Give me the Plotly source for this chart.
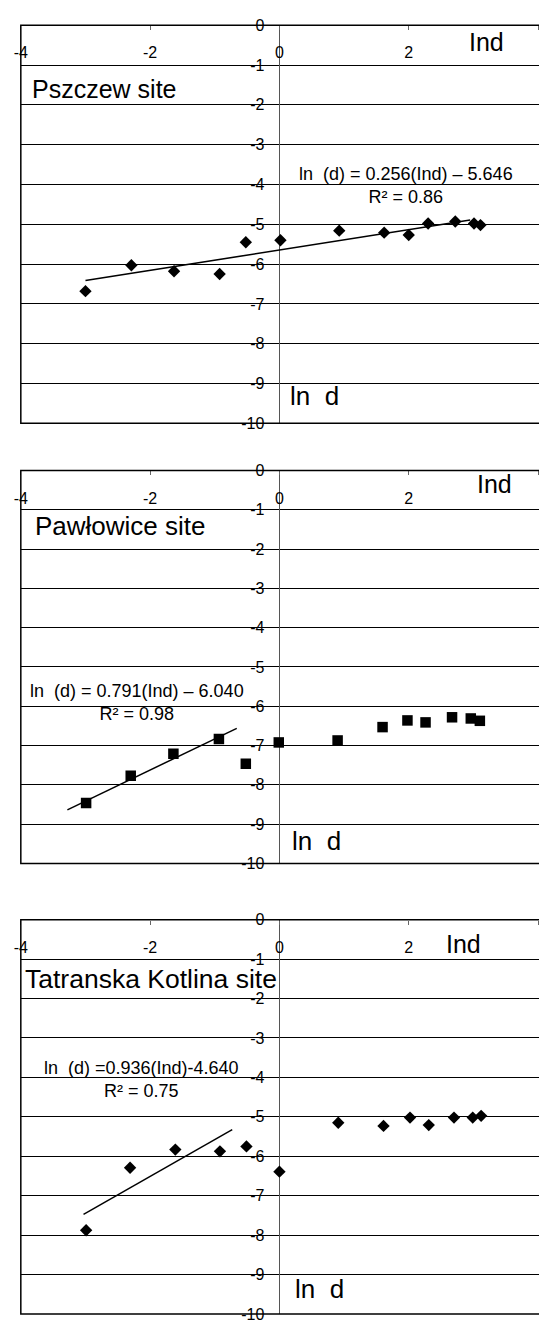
import plotly.graph_objects as go

W, H = 539, 1324
FONT = "Liberation Sans, Arial, sans-serif"

# ---- data ----
site_names = ["Pszczew site", "Pawłowice site", "Tatranska Kotlina site"]

ind_p1 = [-3.0, -2.29, -1.63, -0.925, -0.52, 0.016, 0.925, 1.62, 2.0, 2.30, 2.72, 3.01, 3.11]
lnd_p1 = [-6.68, -6.03, -6.18, -6.25, -5.45, -5.40, -5.16, -5.21, -5.27, -4.98, -4.93, -4.98, -5.02]

ind_p2 = [-2.99, -2.30, -1.64, -0.936, -0.52, -0.01, 0.90, 1.595, 1.98, 2.26, 2.67, 2.96, 3.10]
lnd_p2 = [-8.46, -7.77, -7.21, -6.83, -7.46, -6.92, -6.87, -6.53, -6.36, -6.41, -6.28, -6.31, -6.37]

ind_p3 = [-2.99, -2.31, -1.61, -0.92, -0.51, 0.0, 0.91, 1.61, 2.02, 2.31, 2.70, 2.99, 3.12]
lnd_p3 = [-7.875, -6.29, -5.83, -5.875, -5.75, -6.39, -5.15, -5.23, -5.02, -5.21, -5.02, -5.02, -4.975]

fit_slope = [0.256, 0.791, 0.936]
fit_intercept = [-5.646, -6.040, -4.640]
fit_x_start = [-3.0, -3.28, -3.03]
fit_x_end = [2.95, -0.66, -0.73]

eq_text = ["ln  (d) = 0.256(Ind) – 5.646<br>R² = 0.86",
           "ln  (d) = 0.791(Ind) – 6.040<br>R² = 0.98",
           "ln  (d) =0.936(Ind)-4.640<br>R² = 0.75"]

x_tick_vals = [-4, -2, 0, 2, 4]
x_tick_text = ["-4", "-2", "0", "2", "4"]
y_tick_vals = [0, -1, -2, -3, -4, -5, -6, -7, -8, -9, -10]
y_tick_text = ["0", "-1", "-2", "-3", "-4", "-5", "-6", "-7", "-8", "-9", "-10"]

xs = [ind_p1, ind_p2, ind_p3]
ys = [lnd_p1, lnd_p2, lnd_p3]
symbols = ["diamond", "square", "diamond"]
msizes = [9.5, 10.5, 9.5]

# ---- layout geometry (pixels) ----
top_px = [17.5, 468.5, 923.5]
bot_px = [420.7, 866.6, 1323.0]
left_px = 14.0
yaxis_px = 276.0

def px_x(p):
    return p / W

def px_y(p):
    return 1 - p / H

fig = go.Figure()
layout_axes = {}
shapes = []
annotations = []

title_pos = [(23, 82, 25), (26.8, 525, 26), (16.5, 984, 26.5)]
ind_pos = [(466, 34), (474, 482.5), (443, 948.5)]
lnd_pos = [(285, 393), (287, 844), (290, 1297.5)]
eq_pos = [(404, 179.5), (132, 704), (136, 1085)]

for i in range(3):
    xa = "x" if i == 0 else f"x{i+1}"
    ya = "y" if i == 0 else f"y{i+1}"
    fig.add_trace(go.Scatter(
        x=xs[i], y=ys[i], mode="markers",
        marker=dict(symbol=symbols[i], size=msizes[i], color="black",
                    line=dict(width=0)),
        xaxis=xa, yaxis=ya, showlegend=False, hoverinfo="skip"))
    tx = [fit_x_start[i], fit_x_end[i]]
    ty = [fit_slope[i] * v + fit_intercept[i] for v in tx]
    fig.add_trace(go.Scatter(
        x=tx, y=ty, mode="lines", line=dict(color="black", width=1.5),
        xaxis=xa, yaxis=ya, showlegend=False, hoverinfo="skip"))

    top = px_y(top_px[i])
    bot = px_y(bot_px[i])
    xkey = "xaxis" if i == 0 else f"xaxis{i+1}"
    ykey = "yaxis" if i == 0 else f"yaxis{i+1}"
    layout_axes[xkey] = dict(
        domain=[px_x(left_px), 1.0], range=[-4, 4.015],
        anchor="free", position=top, side="bottom",
        tickmode="array", tickvals=x_tick_vals, ticktext=x_tick_text,
        ticks="outside", ticklen=4, tickcolor="#666", tickwidth=1,
        ticklabelstandoff=9,
        tickfont=dict(family=FONT, size=16, color="black"),
        showgrid=False, showline=False,
        zeroline=True, zerolinecolor="#555", zerolinewidth=1,
        fixedrange=True)
    layout_axes[ykey] = dict(
        domain=[bot, top], range=[-10, 0],
        anchor="free", position=px_x(yaxis_px), side="left",
        tickmode="array", tickvals=y_tick_vals, ticktext=y_tick_text,
        ticks="", ticklabelstandoff=15,
        tickfont=dict(family=FONT, size=16, color="black"),
        showgrid=True, gridcolor="#000", gridwidth=1,
        showline=False, zeroline=False, fixedrange=True)

    # plot-area border (right side runs off the picture)
    shapes.append(dict(type="rect", xref="paper", yref="paper",
                       x0=px_x(left_px), x1=px_x(W + 6), y0=bot, y1=top,
                       line=dict(color="black", width=1.5), layer="above"))

    tx_, ty_, tf = title_pos[i]
    annotations.append(dict(text=site_names[i], xref="paper", yref="paper",
                            x=px_x(tx_), y=px_y(ty_), xanchor="left", yanchor="middle",
                            showarrow=False, font=dict(family=FONT, size=tf, color="black")))
    ix, iy = ind_pos[i]
    annotations.append(dict(text="Ind", xref="paper", yref="paper",
                            x=px_x(ix), y=px_y(iy), xanchor="left", yanchor="middle",
                            showarrow=False, font=dict(family=FONT, size=25, color="black")))
    lx, ly = lnd_pos[i]
    annotations.append(dict(text="ln  d", xref="paper", yref="paper",
                            x=px_x(lx), y=px_y(ly), xanchor="left", yanchor="middle",
                            showarrow=False, font=dict(family=FONT, size=26, color="black")))
    ex, ey = eq_pos[i]
    annotations.append(dict(text=eq_text[i], xref="paper", yref="paper",
                            x=px_x(ex), y=px_y(ey), xanchor="center", yanchor="middle",
                            align="center", showarrow=False,
                            font=dict(family=FONT, size=18, color="black")))

fig.update_layout(
    width=W, height=H,
    margin=dict(l=0, r=0, t=0, b=0, pad=0),
    paper_bgcolor="white", plot_bgcolor="white",
    showlegend=False,
    shapes=shapes, annotations=annotations,
    **layout_axes)

fig.write_html(
    "out.html",
    config={"displayModeBar": False},
    post_script="document.body.style.margin='0';document.body.style.padding='0';"
                "document.body.style.overflow='hidden';",
)
